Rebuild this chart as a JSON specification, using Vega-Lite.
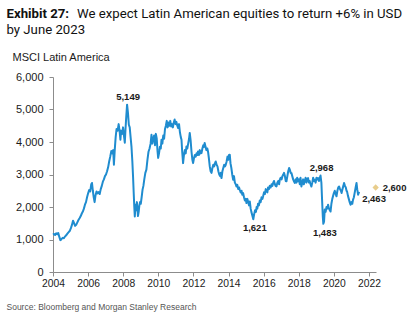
{
  "$schema": "https://vega.github.io/schema/vega-lite/v6.json",
  "width": 323,
  "height": 195,
  "autosize": {"type": "none"},
  "padding": {"left": 53, "top": 77, "right": 34, "bottom": 42},
  "background": "white",
  "config": {
    "view": {"stroke": null},
    "font": "Liberation Sans"
  },
  "title": {
    "text": "We expect Latin American equities to return +6% in USD",
    "anchor": "start",
    "frame": "group",
    "dx": 24,
    "offset": -25,
    "baseline": "alphabetic",
    "font": "Roboto",
    "fontSize": 13.2,
    "fontWeight": "normal",
    "color": "#111111"
  },
  "datasets": {
    "index": [
      {"year": 2004.00, "value": 1150}, {"year": 2004.06, "value": 1170}, {"year": 2004.12, "value": 1140},
      {"year": 2004.18, "value": 1190}, {"year": 2004.24, "value": 1160}, {"year": 2004.30, "value": 1200},
      {"year": 2004.36, "value": 1080}, {"year": 2004.42, "value": 980}, {"year": 2004.48, "value": 1010},
      {"year": 2004.55, "value": 1050}, {"year": 2004.62, "value": 1040}, {"year": 2004.68, "value": 1090},
      {"year": 2004.75, "value": 1130}, {"year": 2004.82, "value": 1180}, {"year": 2004.88, "value": 1220},
      {"year": 2004.95, "value": 1260}, {"year": 2005.02, "value": 1350}, {"year": 2005.08, "value": 1450},
      {"year": 2005.14, "value": 1580}, {"year": 2005.20, "value": 1500}, {"year": 2005.26, "value": 1420},
      {"year": 2005.32, "value": 1450}, {"year": 2005.38, "value": 1520}, {"year": 2005.45, "value": 1600},
      {"year": 2005.52, "value": 1660}, {"year": 2005.58, "value": 1720}, {"year": 2005.64, "value": 1800},
      {"year": 2005.70, "value": 1860}, {"year": 2005.76, "value": 1950}, {"year": 2005.82, "value": 2070},
      {"year": 2005.88, "value": 2150}, {"year": 2005.94, "value": 2300}, {"year": 2006.00, "value": 2420},
      {"year": 2006.06, "value": 2520}, {"year": 2006.12, "value": 2480}, {"year": 2006.18, "value": 2700},
      {"year": 2006.22, "value": 2740}, {"year": 2006.27, "value": 2500}, {"year": 2006.32, "value": 2300},
      {"year": 2006.37, "value": 2150}, {"year": 2006.42, "value": 2350}, {"year": 2006.48, "value": 2480},
      {"year": 2006.54, "value": 2420}, {"year": 2006.60, "value": 2460}, {"year": 2006.66, "value": 2400},
      {"year": 2006.72, "value": 2550}, {"year": 2006.78, "value": 2650}, {"year": 2006.84, "value": 2780},
      {"year": 2006.90, "value": 2850}, {"year": 2006.96, "value": 2950}, {"year": 2007.02, "value": 3000},
      {"year": 2007.08, "value": 3100}, {"year": 2007.14, "value": 3220}, {"year": 2007.20, "value": 3400},
      {"year": 2007.26, "value": 3550}, {"year": 2007.32, "value": 3720}, {"year": 2007.38, "value": 3650},
      {"year": 2007.43, "value": 3750}, {"year": 2007.47, "value": 3300}, {"year": 2007.52, "value": 3780},
      {"year": 2007.57, "value": 4150}, {"year": 2007.62, "value": 4400}, {"year": 2007.68, "value": 4350},
      {"year": 2007.74, "value": 4550}, {"year": 2007.80, "value": 4300}, {"year": 2007.84, "value": 4070},
      {"year": 2007.88, "value": 4350}, {"year": 2007.94, "value": 4250}, {"year": 2007.99, "value": 4450},
      {"year": 2008.04, "value": 4200}, {"year": 2008.09, "value": 3980}, {"year": 2008.13, "value": 4400},
      {"year": 2008.17, "value": 4750}, {"year": 2008.22, "value": 5149}, {"year": 2008.27, "value": 4900},
      {"year": 2008.32, "value": 4530}, {"year": 2008.37, "value": 4450}, {"year": 2008.42, "value": 4150},
      {"year": 2008.47, "value": 3860}, {"year": 2008.52, "value": 3400}, {"year": 2008.56, "value": 2940},
      {"year": 2008.60, "value": 2400}, {"year": 2008.63, "value": 2020}, {"year": 2008.66, "value": 1710},
      {"year": 2008.70, "value": 2070}, {"year": 2008.74, "value": 1900}, {"year": 2008.78, "value": 2150},
      {"year": 2008.81, "value": 1950}, {"year": 2008.84, "value": 1720}, {"year": 2008.88, "value": 1850},
      {"year": 2008.92, "value": 2050}, {"year": 2008.96, "value": 2150}, {"year": 2009.00, "value": 2100},
      {"year": 2009.05, "value": 2300}, {"year": 2009.10, "value": 2530}, {"year": 2009.15, "value": 2650},
      {"year": 2009.20, "value": 2850}, {"year": 2009.26, "value": 3050}, {"year": 2009.32, "value": 3150},
      {"year": 2009.38, "value": 3450}, {"year": 2009.44, "value": 3700}, {"year": 2009.50, "value": 3800},
      {"year": 2009.56, "value": 3950}, {"year": 2009.61, "value": 4220}, {"year": 2009.66, "value": 3950},
      {"year": 2009.71, "value": 4100}, {"year": 2009.76, "value": 4200}, {"year": 2009.81, "value": 3900},
      {"year": 2009.86, "value": 4250}, {"year": 2009.91, "value": 4100}, {"year": 2009.95, "value": 3750},
      {"year": 2009.99, "value": 3510}, {"year": 2010.04, "value": 3650}, {"year": 2010.09, "value": 3850},
      {"year": 2010.14, "value": 3800}, {"year": 2010.18, "value": 4070}, {"year": 2010.23, "value": 3950},
      {"year": 2010.28, "value": 4200}, {"year": 2010.33, "value": 4100}, {"year": 2010.38, "value": 4400},
      {"year": 2010.43, "value": 4500}, {"year": 2010.48, "value": 4650}, {"year": 2010.53, "value": 4450},
      {"year": 2010.58, "value": 4600}, {"year": 2010.63, "value": 4500}, {"year": 2010.68, "value": 4650},
      {"year": 2010.73, "value": 4480}, {"year": 2010.78, "value": 4550}, {"year": 2010.83, "value": 4450},
      {"year": 2010.88, "value": 4600}, {"year": 2010.93, "value": 4690}, {"year": 2010.98, "value": 4550},
      {"year": 2011.03, "value": 4620}, {"year": 2011.08, "value": 4500}, {"year": 2011.13, "value": 4430},
      {"year": 2011.18, "value": 4550}, {"year": 2011.23, "value": 4300}, {"year": 2011.28, "value": 4150},
      {"year": 2011.32, "value": 4070}, {"year": 2011.36, "value": 3700}, {"year": 2011.41, "value": 3350},
      {"year": 2011.46, "value": 3600}, {"year": 2011.51, "value": 3750}, {"year": 2011.56, "value": 3650},
      {"year": 2011.60, "value": 3860}, {"year": 2011.65, "value": 3800}, {"year": 2011.70, "value": 3950},
      {"year": 2011.75, "value": 4100}, {"year": 2011.79, "value": 4280}, {"year": 2011.84, "value": 4050},
      {"year": 2011.89, "value": 3700}, {"year": 2011.94, "value": 3450}, {"year": 2011.98, "value": 3350},
      {"year": 2012.03, "value": 3500}, {"year": 2012.08, "value": 3600}, {"year": 2012.13, "value": 3550},
      {"year": 2012.18, "value": 3650}, {"year": 2012.22, "value": 3600}, {"year": 2012.26, "value": 3710},
      {"year": 2012.31, "value": 3600}, {"year": 2012.36, "value": 3750}, {"year": 2012.41, "value": 3650},
      {"year": 2012.46, "value": 3660}, {"year": 2012.51, "value": 3800}, {"year": 2012.56, "value": 3900},
      {"year": 2012.60, "value": 3850}, {"year": 2012.64, "value": 3970}, {"year": 2012.69, "value": 3850},
      {"year": 2012.74, "value": 3750}, {"year": 2012.79, "value": 3800}, {"year": 2012.83, "value": 3710},
      {"year": 2012.88, "value": 3500}, {"year": 2012.93, "value": 3250}, {"year": 2012.98, "value": 3100},
      {"year": 2013.03, "value": 3050}, {"year": 2013.08, "value": 3200}, {"year": 2013.13, "value": 3300},
      {"year": 2013.18, "value": 3250}, {"year": 2013.23, "value": 3350}, {"year": 2013.27, "value": 3400},
      {"year": 2013.32, "value": 3300}, {"year": 2013.37, "value": 3250}, {"year": 2013.42, "value": 3100},
      {"year": 2013.47, "value": 3000}, {"year": 2013.52, "value": 2950}, {"year": 2013.56, "value": 3050},
      {"year": 2013.60, "value": 2890}, {"year": 2013.65, "value": 3100}, {"year": 2013.70, "value": 3200},
      {"year": 2013.75, "value": 3300}, {"year": 2013.80, "value": 3250}, {"year": 2013.84, "value": 3300},
      {"year": 2013.89, "value": 3400}, {"year": 2013.94, "value": 3550}, {"year": 2013.98, "value": 3450},
      {"year": 2014.03, "value": 3600}, {"year": 2014.07, "value": 3610}, {"year": 2014.11, "value": 3350},
      {"year": 2014.16, "value": 3200}, {"year": 2014.21, "value": 3000}, {"year": 2014.26, "value": 2840},
      {"year": 2014.31, "value": 2950}, {"year": 2014.36, "value": 2750}, {"year": 2014.41, "value": 2700},
      {"year": 2014.45, "value": 2630}, {"year": 2014.50, "value": 2680}, {"year": 2014.55, "value": 2550},
      {"year": 2014.60, "value": 2600}, {"year": 2014.64, "value": 2530}, {"year": 2014.69, "value": 2450},
      {"year": 2014.74, "value": 2500}, {"year": 2014.78, "value": 2380}, {"year": 2014.83, "value": 2430},
      {"year": 2014.88, "value": 2300}, {"year": 2014.93, "value": 2200}, {"year": 2014.98, "value": 2250},
      {"year": 2015.02, "value": 2120}, {"year": 2015.07, "value": 2250}, {"year": 2015.12, "value": 2150},
      {"year": 2015.17, "value": 2050}, {"year": 2015.21, "value": 2170}, {"year": 2015.26, "value": 1950},
      {"year": 2015.30, "value": 1850}, {"year": 2015.35, "value": 1750}, {"year": 2015.41, "value": 1621},
      {"year": 2015.46, "value": 1780}, {"year": 2015.51, "value": 1900}, {"year": 2015.56, "value": 1850},
      {"year": 2015.60, "value": 2000}, {"year": 2015.64, "value": 1950}, {"year": 2015.68, "value": 2100},
      {"year": 2015.73, "value": 2050}, {"year": 2015.78, "value": 2200}, {"year": 2015.83, "value": 2150},
      {"year": 2015.88, "value": 2300}, {"year": 2015.93, "value": 2250}, {"year": 2015.97, "value": 2330},
      {"year": 2016.02, "value": 2450}, {"year": 2016.07, "value": 2400}, {"year": 2016.12, "value": 2550},
      {"year": 2016.16, "value": 2500}, {"year": 2016.21, "value": 2450}, {"year": 2016.25, "value": 2600},
      {"year": 2016.30, "value": 2550}, {"year": 2016.35, "value": 2650}, {"year": 2016.40, "value": 2600},
      {"year": 2016.45, "value": 2700}, {"year": 2016.50, "value": 2650}, {"year": 2016.54, "value": 2740},
      {"year": 2016.59, "value": 2800}, {"year": 2016.64, "value": 2700}, {"year": 2016.68, "value": 2650},
      {"year": 2016.73, "value": 2630}, {"year": 2016.78, "value": 2750}, {"year": 2016.83, "value": 2800},
      {"year": 2016.88, "value": 2700}, {"year": 2016.92, "value": 2840}, {"year": 2016.97, "value": 2900},
      {"year": 2017.02, "value": 2850}, {"year": 2017.07, "value": 2950}, {"year": 2017.11, "value": 2990},
      {"year": 2017.16, "value": 3050}, {"year": 2017.21, "value": 2950}, {"year": 2017.26, "value": 2800},
      {"year": 2017.30, "value": 2790}, {"year": 2017.35, "value": 2950}, {"year": 2017.40, "value": 3100},
      {"year": 2017.45, "value": 3200}, {"year": 2017.49, "value": 3150}, {"year": 2017.54, "value": 3050},
      {"year": 2017.58, "value": 3050}, {"year": 2017.63, "value": 2950}, {"year": 2017.68, "value": 2850},
      {"year": 2017.72, "value": 2800}, {"year": 2017.77, "value": 2740}, {"year": 2017.82, "value": 2850},
      {"year": 2017.87, "value": 2750}, {"year": 2017.91, "value": 2900}, {"year": 2017.96, "value": 2790},
      {"year": 2018.01, "value": 2850}, {"year": 2018.06, "value": 2700}, {"year": 2018.10, "value": 2900},
      {"year": 2018.15, "value": 2630}, {"year": 2018.20, "value": 2750}, {"year": 2018.25, "value": 2850},
      {"year": 2018.29, "value": 2700}, {"year": 2018.34, "value": 2790}, {"year": 2018.39, "value": 2900},
      {"year": 2018.44, "value": 2750}, {"year": 2018.48, "value": 2850}, {"year": 2018.53, "value": 2890},
      {"year": 2018.58, "value": 2750}, {"year": 2018.62, "value": 2800}, {"year": 2018.67, "value": 2700},
      {"year": 2018.72, "value": 2630}, {"year": 2018.77, "value": 2750}, {"year": 2018.82, "value": 2900},
      {"year": 2018.86, "value": 2800}, {"year": 2018.91, "value": 2840}, {"year": 2018.96, "value": 2750},
      {"year": 2019.01, "value": 2900}, {"year": 2019.06, "value": 2850}, {"year": 2019.10, "value": 2890},
      {"year": 2019.15, "value": 2800}, {"year": 2019.20, "value": 2900}, {"year": 2019.24, "value": 2968},
      {"year": 2019.29, "value": 2740}, {"year": 2019.33, "value": 2200}, {"year": 2019.37, "value": 1700},
      {"year": 2019.40, "value": 1483}, {"year": 2019.44, "value": 1550}, {"year": 2019.48, "value": 1920},
      {"year": 2019.53, "value": 1850}, {"year": 2019.58, "value": 2000}, {"year": 2019.62, "value": 1950},
      {"year": 2019.67, "value": 2070}, {"year": 2019.72, "value": 1950}, {"year": 2019.77, "value": 1900},
      {"year": 2019.81, "value": 1860}, {"year": 2019.86, "value": 2100}, {"year": 2019.91, "value": 2250},
      {"year": 2019.96, "value": 2350}, {"year": 2020.00, "value": 2430}, {"year": 2020.05, "value": 2500},
      {"year": 2020.10, "value": 2400}, {"year": 2020.15, "value": 2330}, {"year": 2020.20, "value": 2500},
      {"year": 2020.25, "value": 2600}, {"year": 2020.30, "value": 2630}, {"year": 2020.35, "value": 2550},
      {"year": 2020.40, "value": 2500}, {"year": 2020.44, "value": 2430}, {"year": 2020.49, "value": 2550},
      {"year": 2020.54, "value": 2650}, {"year": 2020.58, "value": 2740}, {"year": 2020.63, "value": 2650},
      {"year": 2020.68, "value": 2600}, {"year": 2020.72, "value": 2500}, {"year": 2020.75, "value": 2480},
      {"year": 2020.80, "value": 2350}, {"year": 2020.85, "value": 2250}, {"year": 2020.90, "value": 2150},
      {"year": 2020.95, "value": 2070}, {"year": 2021.00, "value": 2150}, {"year": 2021.05, "value": 2100},
      {"year": 2021.09, "value": 2220}, {"year": 2021.14, "value": 2300}, {"year": 2021.19, "value": 2450},
      {"year": 2021.24, "value": 2600}, {"year": 2021.29, "value": 2740}, {"year": 2021.33, "value": 2550},
      {"year": 2021.38, "value": 2380}, {"year": 2021.44, "value": 2463}
    ],
    "callouts": [
      {"year": 2008.22, "value": 5149, "kind": "peak"},
      {"year": 2019.24, "value": 2968, "kind": "peak"},
      {"year": 2015.41, "value": 1621, "kind": "trough"},
      {"year": 2019.40, "value": 1483, "kind": "trough"},
      {"year": 2021.44, "value": 2463, "kind": "last"},
      {"year": 2022.38, "value": 2600, "kind": "target"}
    ]
  },
  "resolve": {"axis": {"x": "independent", "y": "independent"}},
  "layer": [
    {
      "data": {"name": "index"},
      "mark": {"type": "line", "color": "#1f8ccf", "strokeWidth": 2, "strokeJoin": "round"},
      "encoding": {
        "x": {
          "field": "year",
          "type": "quantitative",
          "scale": {"domain": [2004, 2022.4], "nice": false, "zero": false},
          "axis": {
            "values": [2004, 2006, 2008, 2010, 2012, 2014, 2016, 2018, 2020, 2022],
            "format": "d",
            "grid": false,
            "labelFlush": false,
            "labelOverlap": false,
            "domainColor": "#8c8c8c",
            "tickColor": "#8c8c8c",
            "tickSize": 4,
            "labelFont": "Liberation Sans",
            "labelFontSize": 10.3,
            "labelColor": "#1a1a1a",
            "labelPadding": 2,
            "title": "Source: Bloomberg and Morgan Stanley Research",
            "titleFont": "Liberation Sans",
            "titleFontSize": 8.5,
            "titleFontWeight": "normal",
            "titleColor": "#555555",
            "titleAnchor": "start",
            "titleAlign": "left",
            "titleBaseline": "alphabetic",
            "titleX": -47,
            "titleY": 37
          }
        },
        "y": {
          "field": "value",
          "type": "quantitative",
          "scale": {"domain": [0, 6000], "nice": false},
          "axis": {
            "values": [0, 1000, 2000, 3000, 4000, 5000, 6000],
            "format": ",d",
            "grid": false,
            "domainColor": "#8c8c8c",
            "tickColor": "#8c8c8c",
            "tickSize": 4,
            "labelFont": "Liberation Sans",
            "labelFontSize": 11,
            "labelColor": "#1a1a1a",
            "labelPadding": 6,
            "title": "MSCI Latin America",
            "titleFont": "Liberation Sans",
            "titleFontSize": 11,
            "titleFontWeight": "normal",
            "titleColor": "#1a1a1a",
            "titleAngle": 0,
            "titleAlign": "left",
            "titleBaseline": "alphabetic",
            "titleX": -41,
            "titleY": -17
          }
        }
      }
    },
    {
      "data": {"name": "callouts"},
      "transform": [{"filter": "datum.kind === 'target'"}],
      "mark": {"type": "point", "shape": "diamond", "filled": true, "color": "#e8cd8c", "size": 40, "opacity": 1},
      "encoding": {
        "x": {
          "field": "year",
          "type": "quantitative",
          "scale": {"domain": [2004, 2022.4], "nice": false, "zero": false},
          "axis": {
            "orient": "top",
            "labels": false,
            "ticks": false,
            "domain": false,
            "grid": false,
            "title": "by June 2023",
            "titleFont": "Roboto",
            "titleFontSize": 13.2,
            "titleFontWeight": "normal",
            "titleColor": "#111111",
            "titleAngle": 0,
            "titleAnchor": "start",
            "titleAlign": "left",
            "titleBaseline": "alphabetic",
            "titleX": -47,
            "titleY": -44
          }
        },
        "y": {
          "field": "value",
          "type": "quantitative",
          "scale": {"domain": [0, 6000], "nice": false},
          "axis": {
            "orient": "right",
            "labels": false,
            "ticks": false,
            "domain": false,
            "grid": false,
            "title": "Exhibit 27:",
            "titleFont": "Roboto",
            "titleFontSize": 13.2,
            "titleFontWeight": "bold",
            "titleColor": "#111111",
            "titleAngle": 0,
            "titleAlign": "left",
            "titleBaseline": "alphabetic",
            "titleX": -370,
            "titleY": -60
          }
        }
      }
    },
    {
      "data": {"name": "callouts"},
      "transform": [{"filter": "datum.kind === 'peak'"}],
      "mark": {"type": "text", "font": "Liberation Sans", "fontWeight": "bold", "fontSize": 9.5, "color": "#1a1a1a", "baseline": "middle", "dy": -8, "dx": 1},
      "encoding": {
        "x": {"field": "year", "type": "quantitative", "axis": null},
        "y": {"field": "value", "type": "quantitative", "axis": null},
        "text": {"field": "value", "format": ",d"}
      }
    },
    {
      "data": {"name": "callouts"},
      "transform": [{"filter": "datum.kind === 'trough'"}],
      "mark": {"type": "text", "font": "Liberation Sans", "fontWeight": "bold", "fontSize": 9.5, "color": "#1a1a1a", "baseline": "middle", "dy": 9, "dx": 1.5},
      "encoding": {
        "x": {"field": "year", "type": "quantitative", "axis": null},
        "y": {"field": "value", "type": "quantitative", "axis": null},
        "text": {"field": "value", "format": ",d"}
      }
    },
    {
      "data": {"name": "callouts"},
      "transform": [{"filter": "datum.kind === 'last'"}],
      "mark": {"type": "text", "font": "Liberation Sans", "fontWeight": "bold", "fontSize": 9.5, "color": "#1a1a1a", "align": "left", "baseline": "middle", "dy": 7, "dx": 3},
      "encoding": {
        "x": {"field": "year", "type": "quantitative", "axis": null},
        "y": {"field": "value", "type": "quantitative", "axis": null},
        "text": {"field": "value", "format": ",d"}
      }
    },
    {
      "data": {"name": "callouts"},
      "transform": [{"filter": "datum.kind === 'target'"}],
      "mark": {"type": "text", "font": "Liberation Sans", "fontWeight": "bold", "fontSize": 9.5, "color": "#1a1a1a", "align": "left", "baseline": "middle", "dx": 7},
      "encoding": {
        "x": {"field": "year", "type": "quantitative", "axis": null},
        "y": {"field": "value", "type": "quantitative", "axis": null},
        "text": {"field": "value", "format": ",d"}
      }
    }
  ]
}
